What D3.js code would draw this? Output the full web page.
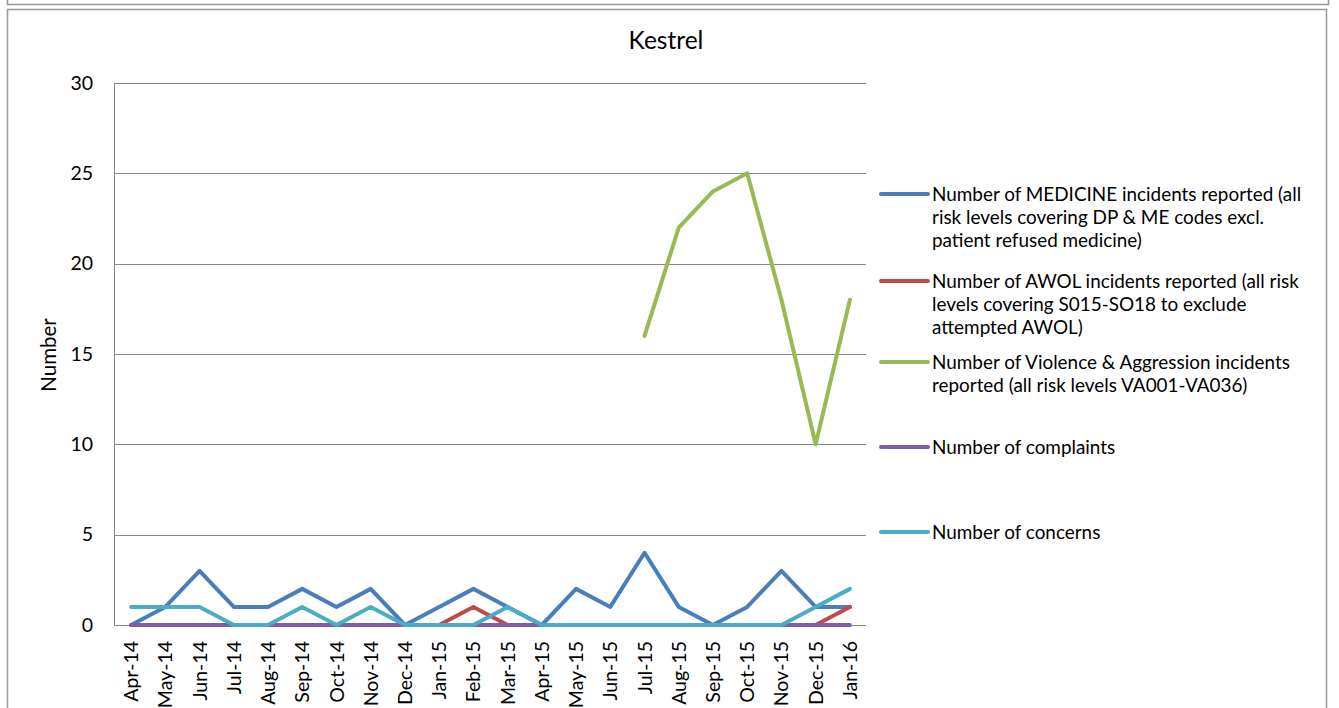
<!DOCTYPE html>
<html><head><meta charset="utf-8">
<script src="https://cdn.jsdelivr.net/npm/d3@7"></script>
<style>body{margin:0;background:#fff;}svg{display:block;font-family:Lato,"Open Sans",sans-serif;}</style>
</head><body>
<svg id="c" width="1339" height="708"></svg>
<script>
const months = ["Apr-14","May-14","Jun-14","Jul-14","Aug-14","Sep-14","Oct-14","Nov-14","Dec-14","Jan-15","Feb-15","Mar-15","Apr-15","May-15","Jun-15","Jul-15","Aug-15","Sep-15","Oct-15","Nov-15","Dec-15","Jan-16"];
const medicine = [0,1,3,1,1,2,1,2,0,1,2,1,0,2,1,4,1,0,1,3,1,1];
const awol = [0,0,0,0,0,0,0,0,0,0,1,0,0,0,0,0,0,0,0,0,0,1];
const violence = [null,null,null,null,null,null,null,null,null,null,null,null,null,null,null,16,22,24,25,18,10,18];
const complaints = [0,0,0,0,0,0,0,0,0,0,0,0,0,0,0,0,0,0,0,0,0,0];
const concerns = [1,1,1,0,0,1,0,1,0,0,0,1,0,0,0,0,0,0,0,0,1,2];
const yTicks = [0,5,10,15,20,25,30];
const seriesNames = [
  ["Number of MEDICINE incidents reported (all","risk levels covering DP & ME codes excl.","patient refused medicine)"],
  ["Number of AWOL incidents reported (all risk","levels covering S015-SO18 to exclude","attempted AWOL)"],
  ["Number of Violence & Aggression incidents","reported (all risk levels VA001-VA036)"],
  ["Number of complaints"],
  ["Number of concerns"]
];
const colors = ["#4A7EBB","#BE4B48","#98B954","#7D60A0","#4BACC6"];
const seriesData = [medicine, awol, violence, complaints, concerns];

const svg = d3.select("#c");
// frames
svg.append("path").attr("d","M7.5,0 V4.5 H1328.5 V0").attr("fill","none").attr("stroke","#999").attr("stroke-width",1.5);
svg.append("path").attr("d","M7.5,710 V9.5 H1326.5 V710").attr("fill","none").attr("stroke","#999").attr("stroke-width",1.5);

const L=114, R=867, T=83, B=625;
const x = d3.scaleBand().domain(months).range([L,R]);
const y = d3.scaleLinear().domain([0,30]).range([B,T]);
const g = svg.append("g");

// gridlines
g.selectAll(".grid").data(yTicks.filter(d=>d>0)).join("line")
  .attr("x1",L).attr("x2",R-1).attr("y1",d=>Math.round(y(d))+0.5).attr("y2",d=>Math.round(y(d))+0.5)
  .attr("stroke","#868686").attr("stroke-width",1);
g.append("line").attr("x1",L+0.5).attr("x2",L+0.5).attr("y1",T).attr("y2",B+0.5).attr("stroke","#868686");
g.append("line").attr("x1",L).attr("x2",R-1).attr("y1",B+0.5).attr("y2",B+0.5).attr("stroke","#868686");

// y tick labels
const yAxis = d3.axisLeft(y).tickValues(yTicks).tickSize(0).tickPadding(21);
const ya = g.append("g").attr("transform",`translate(${L},0)`).call(yAxis);
ya.select(".domain").remove();
ya.selectAll("text").attr("font-size",19.5).attr("font-family","Lato,sans-serif").attr("fill","#000");

// x tick labels
const xAxis = d3.axisBottom(x).tickSize(0).tickPadding(0);
const xa = g.append("g").attr("transform",`translate(0,${B})`).call(xAxis);
xa.select(".domain").remove();
xa.selectAll("text").attr("font-size",19.5).attr("font-family","Lato,sans-serif").attr("fill","#000")
  .attr("transform","rotate(-90)").attr("text-anchor","end").attr("dy","0.36em").attr("x",-16).attr("y",0);

// lines
const line = d3.line().defined(d=>d!=null).x((d,i)=>x(months[i])+x.bandwidth()/2).y(d=>y(d));
seriesData.forEach((s,i)=>{
  g.append("path").datum(s).attr("d",line).attr("fill","none").attr("stroke",colors[i])
   .attr("stroke-width",4).attr("stroke-linejoin","round").attr("stroke-linecap","round");
});

// title
svg.append("text").attr("x",666).attr("y",49).attr("text-anchor","middle").attr("font-size",24.5).text("Kestrel");
// y label
svg.append("text").attr("transform","translate(56,355) rotate(-90)").attr("text-anchor","middle").attr("font-size",20.5).text("Number");

// legend
const legY = [194,281,362,447,532];
const lg = svg.append("g");
seriesNames.forEach((lines,i)=>{
  lg.append("line").attr("x1",881).attr("x2",928).attr("y1",legY[i]).attr("y2",legY[i]).attr("stroke",colors[i]).attr("stroke-width",4).attr("stroke-linecap","round");
  lines.forEach((t,j)=>{
    lg.append("text").attr("x",932).attr("y",legY[i]+j*23).attr("dy","0.36em").attr("font-size",18.9).text(t);
  });
});
</script>
</body></html>
